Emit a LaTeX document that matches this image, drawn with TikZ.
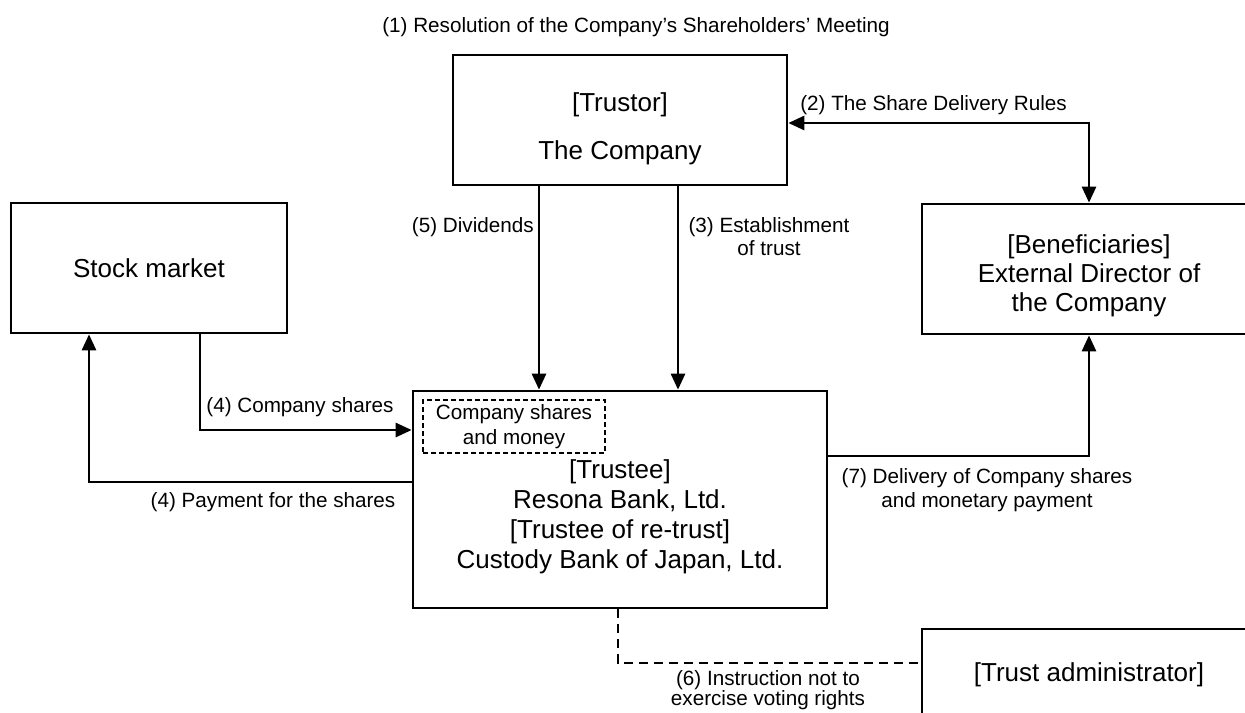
\documentclass[tikz,border=0pt]{standalone}
\usepackage{fontspec}
\setmainfont{Liberation Sans}
\usetikzlibrary{arrows.meta,calc}
\begin{document}
\begin{tikzpicture}[x=0.75pt,y=-0.75pt,
  box/.style={draw,line width=2pt,rectangle,inner sep=0pt},
  innerbox/.style={draw,line width=1pt,dash pattern=on 3.8pt off 2.2pt,rectangle,inner sep=0pt},
  big/.style={font=\fontsize{19.5}{22.5}\selectfont,align=center,inner sep=0pt},
  small/.style={font=\fontsize{15.5}{18}\selectfont,align=center,inner sep=0pt},
  conn/.style={line width=2pt,-{Triangle[length=12pt,width=10.5pt]}},
  biconn/.style={line width=2pt,{Triangle[length=12pt,width=10.5pt]}-{Triangle[length=12pt,width=10.5pt]}},
  dashconn/.style={line width=2pt,dash pattern=on 6.75pt off 4.5pt}]
\useasboundingbox (0,0) rectangle (1245,713);
\clip (0,0) rectangle (1245,713);

% title
\node[small] (title) at (636,27) {(1) Resolution of the Company’s Shareholders’ Meeting};

% boxes
\node[box,minimum width=250.5pt,minimum height=97.5pt] (trustor) at (620,120) {};
\node[big,font=\fontsize{19.5}{36}\selectfont] (trustortxt) at (620,129) {{[Trustor]}\\The Company};

\node[box,big,minimum width=207pt,minimum height=97.5pt] (stock) at (149,268) {Stock market};

\node[box,minimum width=250.5pt,minimum height=97.5pt] (benef) at (1089,269) {};
\node[big,font=\fontsize{19.5}{21.75}\selectfont] (beneftxt) at (1089,276) {{[Beneficiaries]}\\External Director of\\the Company};

\node[box,minimum width=310.5pt,minimum height=162.75pt] (trustee) at (620,499.5) {};
\node[big] (trusteetxt) at (620,517) {{[Trustee]}\\Resona Bank, Ltd.\\{[Trustee of re-trust]}\\Custody Bank of Japan, Ltd.};

\node[innerbox,small,font=\fontsize{15.5}{18.75}\selectfont,minimum width=136.5pt,minimum height=39.75pt] (assets) at (514,426.5) {Company shares\\and money};

\node[box,big,minimum width=250.5pt,minimum height=69pt] (admin) at (1089,675) {[Trust administrator]};

% helper coordinates
\coordinate (c2) at (0,123);
\coordinate (c5) at (539,0);
\coordinate (c3) at (678,0);
\coordinate (c4a) at (200,430);
\coordinate (c4b) at (89,482);
\coordinate (c7) at (1089,456);
\coordinate (c6) at (618,663);

% connectors
\draw[biconn] (benef.north) |- (trustor.east |- c2);
\draw[conn] (trustor.south -| c5) -- (trustee.north -| c5);
\draw[conn] (trustor.south -| c3) -- (trustee.north -| c3);
\draw[conn] (stock.south -| c4a) |- (trustee.west |- c4a);
\draw[conn] (trustee.west |- c4b) -| (stock.south -| c4b);
\draw[conn] (trustee.east |- c7) -| (benef.south);
\draw[dashconn] (trustee.south -| c6) |- (admin.west |- c6);

% labels
\node[small,anchor=west] (l2) at (800,105) {(2) The Share Delivery Rules};
\node[small,anchor=east] (l5) at (534,227) {(5) Dividends};
\node[small,font=\fontsize{15.5}{17.25}\selectfont] (l3) at (769,237) {(3) Establishment\\of trust};
\node[small] (l4a) at (300,407) {(4) Company shares};
\node[small] (l4b) at (273,502) {(4) Payment for the shares};
\node[small] (l7) at (987,490) {(7) Delivery of Company shares\\and monetary payment};
\node[small,font=\fontsize{15.5}{15}\selectfont] (l6) at (768,690) {(6) Instruction not to\\exercise voting rights};
\end{tikzpicture}
\end{document}
